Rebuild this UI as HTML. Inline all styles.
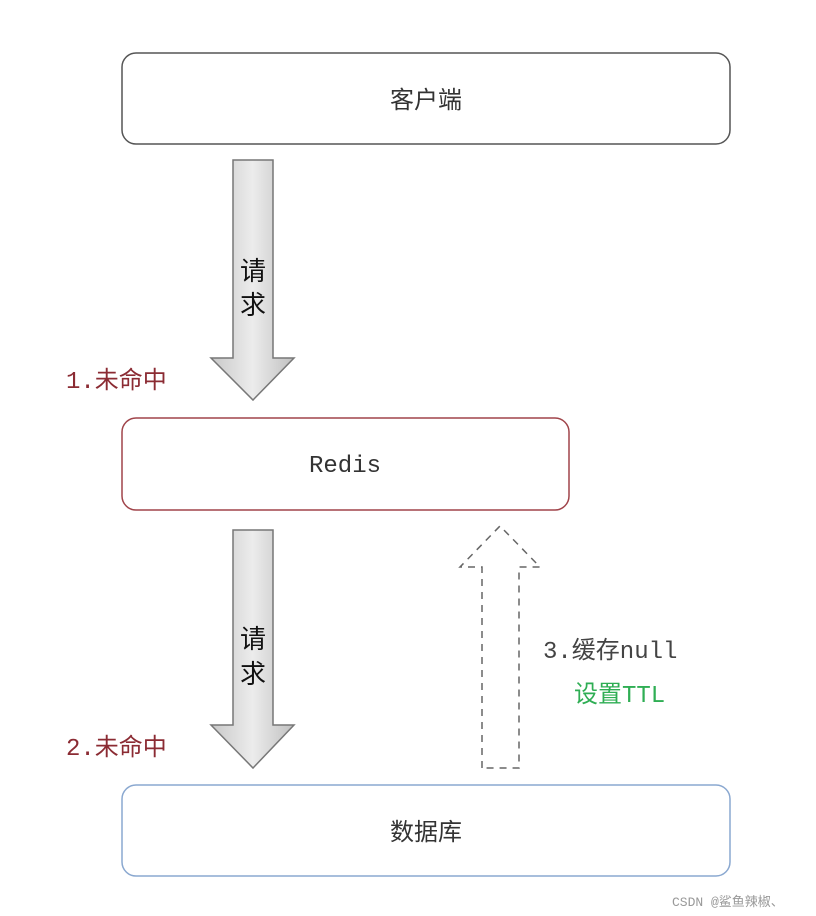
<!DOCTYPE html>
<html><head><meta charset="utf-8"><style>
body{margin:0;background:#fff;}
svg{display:block;}
text{font-family:"Liberation Mono","Noto Sans CJK SC",monospace;}
</style></head><body>
<svg width="816" height="916" viewBox="0 0 816 916" xmlns="http://www.w3.org/2000/svg">
<defs>
<linearGradient id="g" x1="0" x2="1" y1="0" y2="0">
<stop offset="0" stop-color="#c8c8c8"/><stop offset="0.5" stop-color="#ececec"/><stop offset="1" stop-color="#c0c0c0"/>
</linearGradient>
</defs>
<rect x="122" y="53" width="608" height="91" rx="14" fill="#fff" stroke="#555" stroke-width="1.5"/>
<text x="426" y="108" font-size="24" text-anchor="middle" fill="#333" font-family="Noto Sans CJK SC,sans-serif">客户端</text>

<path d="M233 160 H273 V358 H294 L253 400 L211 358 H233 Z" fill="url(#g)" stroke="#777" stroke-width="1.5"/>
<text x="253" y="280" font-size="26" text-anchor="middle" fill="#111" font-family="Noto Sans CJK SC,sans-serif">请</text>
<text x="253" y="314" font-size="26" text-anchor="middle" fill="#111" font-family="Noto Sans CJK SC,sans-serif">求</text>
<text x="66" y="388" font-size="24" fill="#8b2b33">1.未命中</text>

<rect x="122" y="418" width="447" height="92" rx="14" fill="#fff" stroke="#a0444a" stroke-width="1.5"/>
<text x="345" y="472" font-size="24" text-anchor="middle" fill="#333">Redis</text>

<path d="M233 530 H273 V725 H294 L253 768 L211 725 H233 Z" fill="url(#g)" stroke="#777" stroke-width="1.5"/>
<text x="253" y="648" font-size="26" text-anchor="middle" fill="#111" font-family="Noto Sans CJK SC,sans-serif">请</text>
<text x="253" y="683" font-size="26" text-anchor="middle" fill="#111" font-family="Noto Sans CJK SC,sans-serif">求</text>
<text x="66" y="755" font-size="24" fill="#8b2b33">2.未命中</text>

<path d="M482 768 V567 H460 L500 526 L540 567 H519 V768 Z" fill="none" stroke="#666" stroke-width="1.5" stroke-dasharray="7,6"/>
<text x="543" y="658" font-size="24" fill="#444">3.缓存null</text>
<text x="574" y="702" font-size="24" fill="#2fae54" font-family="Noto Sans CJK SC,sans-serif">设置TTL</text>

<rect x="122" y="785" width="608" height="91" rx="14" fill="#fff" stroke="#8aa8d0" stroke-width="1.5"/>
<text x="426" y="840" font-size="24" text-anchor="middle" fill="#333" font-family="Noto Sans CJK SC,sans-serif">数据库</text>

<text x="672" y="906" font-size="13" fill="#999" font-family="Liberation Sans,Noto Sans CJK SC,sans-serif">CSDN @鲨鱼辣椒、</text>
</svg>
</body></html>
